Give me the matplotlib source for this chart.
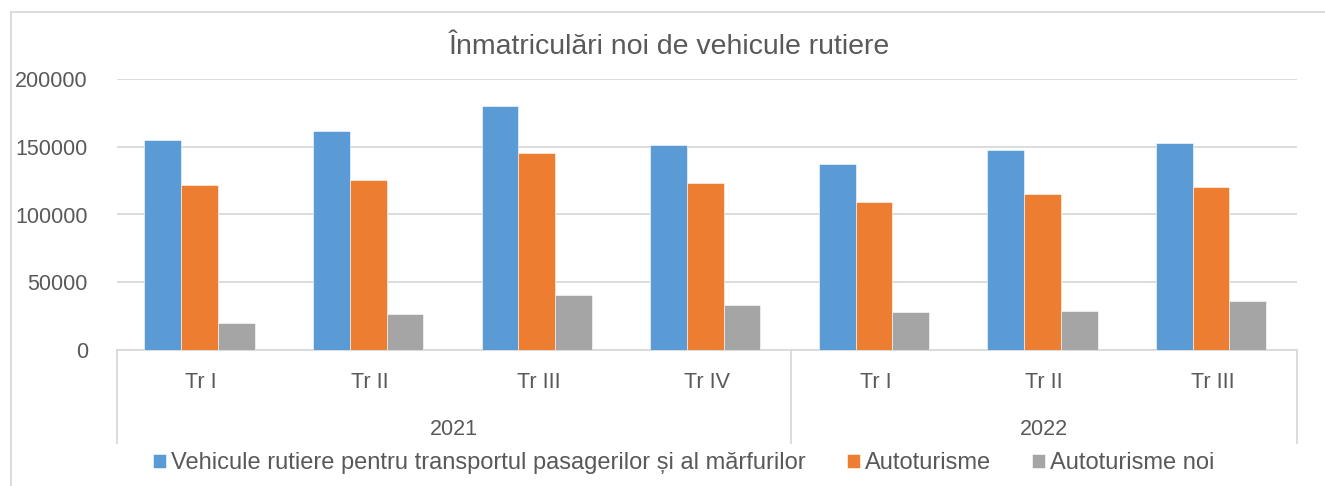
import numpy as np
import matplotlib.pyplot as plt
from matplotlib.lines import Line2D

# data
years = ["2021", "2022"]
year_sizes = [4, 3]
quarters = ["Tr I", "Tr II", "Tr III", "Tr IV", "Tr I", "Tr II", "Tr III"]
series_names = [
    "Vehicule rutiere pentru transportul pasagerilor și al mărfurilor",
    "Autoturisme",
    "Autoturisme noi",
]
vehicule = [155000, 161500, 180000, 151300, 137300, 147600, 152800]
autoturisme = [121700, 125200, 145400, 123200, 108900, 114800, 120200]
autoturisme_noi = [20200, 26200, 40300, 32900, 28400, 29100, 36000]
colors = ["#5B9BD5", "#ED7D31", "#A5A5A5"]

TXT = "#595959"
GRID = "#D9D9D9"
FONT = "Liberation Sans"

W, H = 1325, 486
fig = plt.figure(figsize=(W / 100, H / 100), dpi=100)
fig.patch.set_facecolor("white")

def fx(px):
    return px / W

def fy(py):
    return 1 - py / H

bot = fy(350)
hgt = fy(79) - fy(350)

def ay(py):
    # pixel row -> axes fraction
    return (fy(py) - bot) / hgt

ax = fig.add_axes([fx(117), bot, fx(1297) - fx(117), hgt])

x = np.arange(len(quarters))
bw = 0.218
for i, vals in enumerate([vehicule, autoturisme, autoturisme_noi]):
    ax.bar(x + (i - 1) * bw - 0.01, vals, bw, color=colors[i], edgecolor="white",
           linewidth=0.4, zorder=3, label=series_names[i])

ax.set_xlim(-0.5, len(quarters) - 0.5)
ax.set_ylim(0, 200000)
ax.set_yticks(range(0, 200001, 50000))
ax.set_yticklabels([str(v) for v in range(0, 200001, 50000)],
                   fontsize=15.5, color=TXT, family=FONT)
ax.tick_params(axis="y", length=0, pad=21)
ax.tick_params(axis="x", length=0, labelbottom=False)
ax.grid(axis="y", color=GRID, linewidth=1.3, zorder=0)
for s in ["top", "right", "left"]:
    ax.spines[s].set_visible(False)
ax.spines["bottom"].set_color(GRID)
ax.spines["bottom"].set_linewidth(1.3)

# multi-level category axis
trans = ax.get_xaxis_transform()
for xi, q in zip(x, quarters):
    ax.text(xi, ay(382), q, transform=trans, ha="center", va="center",
            fontsize=15.5, color=TXT, family=FONT, clip_on=False)

start = -0.5
bounds = [start]
for name, n in zip(years, year_sizes):
    ax.text(start + n / 2, ay(429), name, transform=trans, ha="center",
            va="center", fontsize=15.5, color=TXT, family=FONT, clip_on=False)
    start += n
    bounds.append(start)
for b in bounds:
    ax.add_line(Line2D([b, b], [0, ay(443)], transform=trans, color=GRID,
                       linewidth=1.3, clip_on=False))

fig.text(0.505, fy(47), "Înmatriculări noi de vehicule rutiere", ha="center",
         va="center", fontsize=20.5, color=TXT, family=FONT)

# chart border (top and left only visible)
fig.add_artist(Line2D([fx(11), 1], [fy(12), fy(12)], color=GRID, linewidth=1.3))
fig.add_artist(Line2D([fx(11), fx(11)], [fy(12), 0], color=GRID, linewidth=1.3))

handles, labels = ax.get_legend_handles_labels()
leg = fig.legend(handles, labels, loc="center", bbox_to_anchor=(0.516, fy(463)),
                 ncol=3, frameon=False, handlelength=0.55, handleheight=0.55,
                 handletextpad=0.2, columnspacing=1.75,
                 prop={"family": FONT, "size": 17})
for t in leg.get_texts():
    t.set_color(TXT)

fig.savefig("out.png", dpi=100, facecolor="white")
